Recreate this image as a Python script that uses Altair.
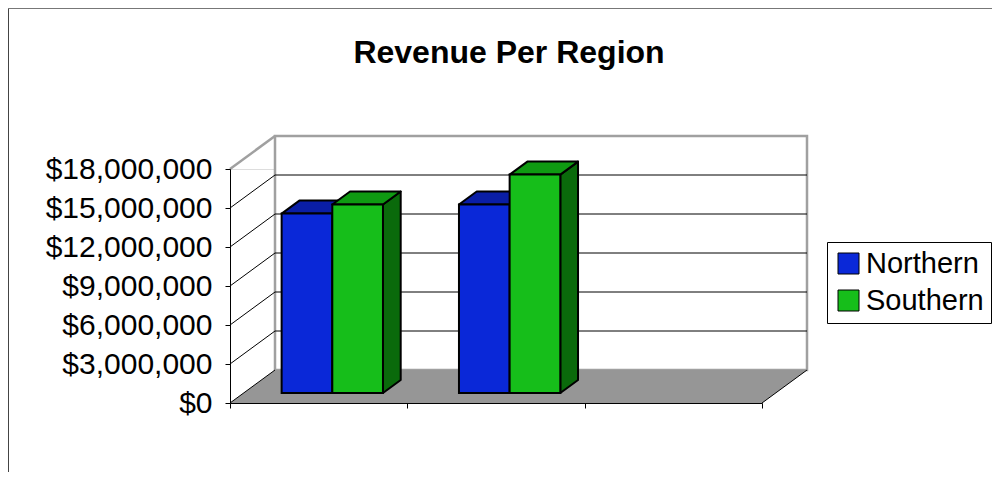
import altair as alt
import pandas as pd

# ---------------- data ----------------
categories = ["Period 1", "Period 2", "Period 3"]
series = ["Northern", "Southern"]
northern = [13_800_000, 14_500_000, None]
southern = [14_500_000, 16_800_000, None]
y_ticks = [0, 3_000_000, 6_000_000, 9_000_000, 12_000_000, 15_000_000, 18_000_000]

# ---------------- styles ----------------
W, H = 532, 234                 # front plot plane, px
PAD_L, PAD_T, PAD_R, PAD_B = 222, 161, 230, 69
DEPTH_X, DEPTH_Y = 45, 33       # oblique depth of the floor, px
BAR_FRONT = 10 / 33             # bar front plane (fraction of depth)
BAR_DEPTH = 13 / 33             # bar depth (fraction of depth)
GAP_WIDTH = 1.5                 # gap between category groups (x bar width)
FONT = "Liberation Sans"
FRONT = {"Northern": "#0A28D8", "Southern": "#16BE1A"}
TOP = {"Northern": "#0A1EA6", "Southern": "#0F9A12"}
SIDE = {"Northern": "#061888", "Southern": "#0A6A0B"}
FLOOR = "#969696"
WALL = "#A0A0A0"

n = len(categories)
ymax = max(y_ticks)
ux = W / n            # px per category unit
uy = H / ymax         # px per dollar
dxu = DEPTH_X / ux
dyu = DEPTH_Y / uy
fx, fy = dxu * BAR_FRONT, dyu * BAR_FRONT
ddx, ddy = dxu * BAR_DEPTH, dyu * BAR_DEPTH
bw = 1 / (len(series) + GAP_WIDTH)

values = {"Northern": northern, "Southern": southern}
fronts, tops, sides = [], [], []
for i, cat in enumerate(categories):
    for j, s in enumerate(series):
        v = values[s][i]
        if v is None:
            continue
        xl = i + 0.5 - bw * len(series) / 2 + j * bw + fx
        xr = xl + bw
        bid = f"{cat}-{s}"
        fronts.append({"series": s, "category": cat, "x": xl, "x2": xr, "y": fy, "y2": v + fy})
        t = v + fy
        for (xx, a, b) in [(xl, t, t), (xl + ddx, t, t + ddy), (xr, t, t + ddy), (xr + ddx, t + ddy, t + ddy)]:
            tops.append({"bar": bid, "fill": TOP[s], "x": xx, "y": a, "y2": b})
        for (xx, a, b) in [(xr, fy, t), (xr + ddx, fy + ddy, t + ddy)]:
            sides.append({"bar": bid, "fill": SIDE[s], "x": xx, "y": a, "y2": b})

fronts = pd.DataFrame(fronts)
tops = pd.DataFrame(tops)
sides = pd.DataFrame(sides)
ticks = pd.DataFrame({"v": y_ticks})
floor = pd.DataFrame({"x": [0, dxu, n, n + dxu], "y": [0, 0, 0, dyu], "y2": [0, dyu, dyu, dyu]})
one = pd.DataFrame({"k": [0]})

xs = alt.Scale(domain=[0, n], nice=False, zero=False)
ys = alt.Scale(domain=[0, ymax], nice=False)

X_AXIS = alt.Axis(values=list(range(n + 1)), labels=False, title=None, grid=False,
                  domainColor="black", tickColor="black", tickSize=5, domainWidth=1, zindex=1)
Y_AXIS = alt.Axis(values=y_ticks, format="$,.0f", title=None, grid=False,
                  domainColor="black", tickColor="black", tickSize=5, domainWidth=1,
                  labelFont=FONT, labelFontSize=30, labelColor="black", labelPadding=13,
                  labelOverlap=False, labelBound=False, labelFlush=False, zindex=1)


def X(field):
    return alt.X(field, scale=xs, axis=X_AXIS)


def Y(field):
    return alt.Y(field, scale=ys, axis=Y_AXIS, stack=None)


base = alt.Chart(one)

back_wall = base.mark_rect(fill="white", stroke=WALL, strokeWidth=2.5,
                           xOffset=DEPTH_X, x2Offset=DEPTH_X, yOffset=-DEPTH_Y, y2Offset=-DEPTH_Y).encode(
    x=X("a:Q"), x2=alt.datum(n), y=Y("b:Q"), y2=alt.datum(ymax),
).transform_calculate(a="0", b="0")

back_grid = alt.Chart(ticks).transform_filter(
    (alt.datum.v > 0) & (alt.datum.v < ymax)
).mark_rule(color="black", strokeWidth=1,
            xOffset=DEPTH_X, x2Offset=DEPTH_X, yOffset=-DEPTH_Y, y2Offset=-DEPTH_Y).encode(
    x=alt.datum(0), x2=alt.datum(n), y=Y("v:Q")
)

floor_area = alt.Chart(floor).mark_area(fill=FLOOR, orient="vertical", strokeWidth=0).encode(
    x=X("x:Q"), y=Y("y:Q"), y2="y2:Q"
)

side_lines = alt.Chart(ticks).transform_filter(alt.datum.v < ymax).mark_rule(
    color="black", strokeWidth=1, x2Offset=DEPTH_X, y2Offset=-DEPTH_Y).encode(
    x=alt.datum(0), x2=alt.datum(0), y=Y("v:Q"), y2="v:Q"
)
side_top = alt.Chart(ticks).transform_filter(alt.datum.v == ymax).mark_rule(
    color=WALL, strokeWidth=2.5, x2Offset=DEPTH_X, y2Offset=-DEPTH_Y).encode(
    x=alt.datum(0), x2=alt.datum(0), y=Y("v:Q"), y2="v:Q"
)
floor_edge = alt.Chart(ticks).transform_filter(alt.datum.v == 0).mark_rule(
    color="black", strokeWidth=1, x2Offset=DEPTH_X, y2Offset=-DEPTH_Y).encode(
    x=alt.datum(n), x2=alt.datum(n), y=Y("v:Q"), y2="v:Q"
)

side_faces = alt.Chart(sides).mark_area(orient="vertical", stroke="black", strokeWidth=2,
                                        strokeJoin="round").encode(
    x=X("x:Q"), y=Y("y:Q"), y2="y2:Q",
    color=alt.Color("fill:N", scale=None), detail="bar:N"
)
top_faces = alt.Chart(tops).mark_area(orient="vertical", stroke="black", strokeWidth=2,
                                      strokeJoin="round").encode(
    x=X("x:Q"), y=Y("y:Q"), y2="y2:Q",
    color=alt.Color("fill:N", scale=None), detail="bar:N"
)
front_faces = alt.Chart(fronts).mark_rect(stroke="black", strokeWidth=2).encode(
    x=X("x:Q"), x2="x2:Q", y=Y("y:Q"), y2="y2:Q",
    fill=alt.Fill("series:N", scale=alt.Scale(domain=series, range=[FRONT[s] for s in series]),
                  legend=alt.Legend(orient="none", legendX=597, legendY=73, title=None,
                                    symbolType="square", symbolSize=441,
                                    symbolStrokeColor="black", symbolStrokeWidth=1,
                                    labelFont=FONT, labelFontSize=29, labelColor="black",
                                    labelOffset=3, rowPadding=7, padding=7,
                                    strokeColor="black", fillColor="white")),
)

frame_left = base.mark_rule(color="#444", strokeWidth=1).encode(
    x=alt.value(-PAD_L + 0.5), y=alt.value(-PAD_T), y2=alt.value(H + PAD_B))
frame_top = base.mark_rule(color="#777", strokeWidth=1).encode(
    x=alt.value(-PAD_L), x2=alt.value(W + PAD_R), y=alt.value(-PAD_T + 0.5))

chart = alt.layer(
    back_wall, back_grid, floor_area, side_lines, side_top, floor_edge,
    side_faces, top_faces, front_faces, frame_left, frame_top
).properties(
    width=W, height=H,
    autosize=alt.AutoSizeParams(type="none"),
    padding={"left": PAD_L, "top": PAD_T, "right": PAD_R, "bottom": PAD_B},
    title=alt.TitleParams("Revenue Per Region", font=FONT, fontSize=32, fontWeight="bold",
                          color="black", anchor="middle", dx=13, offset=-94,
                          frame="group", baseline="bottom"),
).configure_view(stroke=None).configure_axisY(labelOverlap=False).configure(background="white")

chart.save("out.html", embed_options={"renderer": "svg", "actions": False})
